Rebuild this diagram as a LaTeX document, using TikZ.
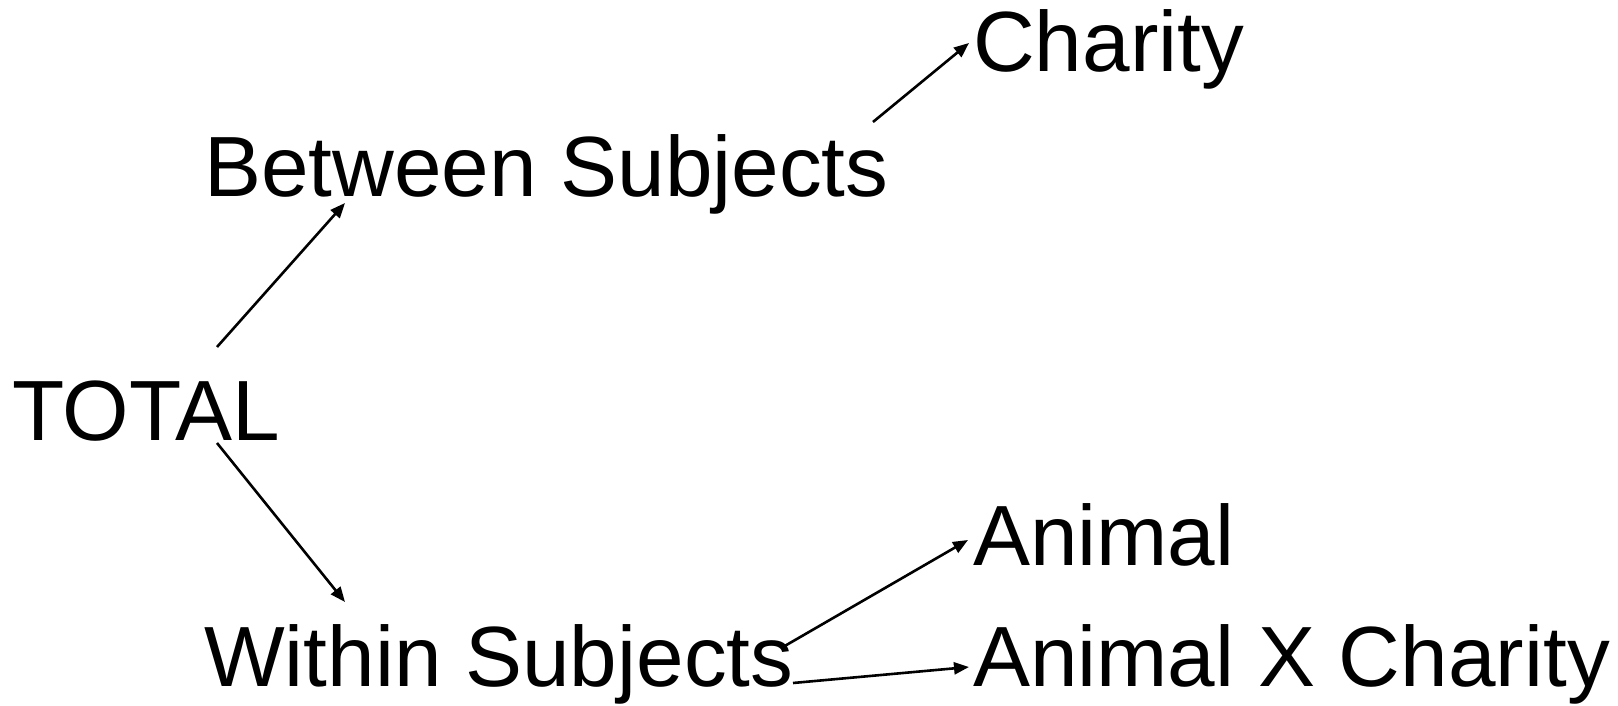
\documentclass[tikz,border=0pt]{standalone}
\usepackage{fontspec}
\setmainfont{Liberation Sans}
\usetikzlibrary{arrows.meta}
\begin{document}
\begin{tikzpicture}[x=1pt,y=1pt,
  lbl/.style={anchor=base west,inner sep=0pt,font=\fontsize{85.5}{100}\selectfont},
  conn/.style={line width=2.6pt,-{Triangle[length=15pt,width=12pt]}}]
\useasboundingbox (0,0) rectangle (1618,705);
\node[lbl] (total) at (12,264) {TOTAL};
\node[lbl] (between) at (204,508) {Between Subjects};
\node[lbl] (within) at (204,19) {Within Subjects};
\node[lbl] (charity) at (973,633) {Charity};
\node[lbl] (animal) at (973,140) {Animal};
\node[lbl] (axc) at (973,19) {Animal X Charity};
\coordinate (a1s) at (217,358);
\coordinate (a1e) at (345,502);
\coordinate (a2s) at (873,583);
\coordinate (a2e) at (969,662);
\coordinate (a3s) at (217,262);
\coordinate (a3e) at (345,103);
\coordinate (a4s) at (783,58);
\coordinate (a4e) at (968,165);
\coordinate (a5s) at (793,22);
\coordinate (a5e) at (969,38);
\draw[conn] (a1s) -- (a1e);
\draw[conn] (a2s) -- (a2e);
\draw[conn] (a3s) -- (a3e);
\draw[conn] (a4s) -- (a4e);
\draw[conn] (a5s) -- (a5e);
\end{tikzpicture}
\end{document}
